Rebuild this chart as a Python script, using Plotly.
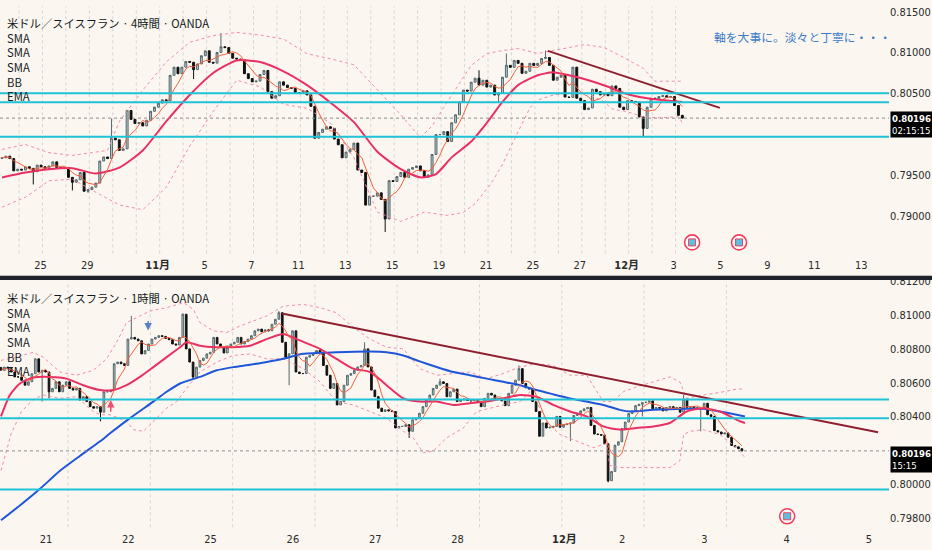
import numpy as np
import pandas as pd
import plotly.graph_objects as go

# prices are kept as 1e-5 steps above / below 0.80000
BASE = 0.8

# ---------------- 4H pane ----------------
top_first_open = -300
top_close = [
    -290, -270, -300, -450, -430, -440, -400, -420, -460, -380,
    -400, -420, -390, -340, -410, -420, -410, -530, -590, -560,
    -470, -700, -680, -650, -600, -330, -280, -300, -50, -70,
    -200, -180, 290, 180, 130, 140, 100, 170, 280, 330,
    380, 420, 410, 720, 820, 740, 820, 890, 880, 790,
    860, 960, 1020, 880, 870, 1000, 1070, 1060, 990, 930,
    920, 910, 740, 680, 640, 650, 730, 780, 520, 440,
    470, 640, 600, 570, 560, 510, 500, 530, 480, 340,
    -50, 20, 60, 90, 70, -60, -130, -290, -220, -190,
    -110, -440, -470, -870, -760, -760, -720, -800, -1040, -570,
    -580, -520, -470, -530, -430, -410, -390, -450, -530, -500,
    -250, -6, -6, 30, -91, 139, 236, 394, 539, 527,
    636, 685, 600, 660, 576, 600, 479, 503, 697, 842,
    818, 903, 867, 745, 770, 867, 842, 867, 927, 939,
    842, 660, 697, 721, 454, 450, 820, 440, 410, 300,
    320, 550, 520, 480, 500, 470, 590, 560, 330, 300,
    410, 400, 390, 210, 70, 330, 440, 430, 460, 470,
    450, 460, 350, 230, 196]
top_spikes = [(8, -617), (18, -690), (22, -720), (28, 190), (49, 674), (56, 1238),
              (98, -1200), (122, 782), (127, 382), (129, 988), (139, 1024), (164, -30)]

top_mid_bar = [0, 6, 12, 18, 24, 30, 36, 42, 48, 54, 60, 66, 72, 78, 84, 90, 96, 102,
               107, 111, 115, 120, 124, 128, 132, 137, 141, 145, 150, 155, 159, 163, 168, 174]
top_mid = [-531, -471, -430, -418, -483, -410, -200, 155, 479, 749, 903, 883, 769, 600, 386, 147, -216, -430,
           -530, -490, -285, -91, 139, 394, 600, 721, 757, 720, 660, 580, 503, 454, 420, 394]
top_up_bar = [0, 6, 12, 18, 24, 27, 30, 36, 42, 48, 54, 60, 66, 72, 78, 84, 90, 96, 102, 107,
              110, 113, 115, 120, 124, 128, 132, 137, 141, 144, 149, 154, 159, 164, 166, 167, 174]
top_up = [-188, -127, -228, -261, -220, -200, 155, 539, 883, 1125, 1206, 1246, 1214, 1165, 984, 923, 850, 539, 236, -44,
          100, 330, 479, 842, 988, 1024, 1048, 988, 1024, 1048, 1097, 1061, 939, 806, 697, 648, 648]
top_lo_bar = [0, 6, 12, 18, 24, 30, 36, 42, 48, 54, 60, 66, 72, 78, 84, 90, 96, 102, 108, 114,
              118, 121, 125, 128, 132, 135, 137, 141, 145, 149, 154, 156, 160, 164, 168, 173, 174]
top_lo = [-895, -774, -572, -552, -713, -867, -927, -653, -148, 277, 660, 580, 365, 317, 135, -289, -956, -1069, -956, -996,
          -960, -850, -612, -370, 30, 321, 418, 479, 503, 515, 394, 309, 273, 212, 200, 212, 139]
top_trend_bar = [139.6, 183.6]
top_trend = [1020, 321]
top_event_bar = [176.5, 188.5]
top_event = [-1327, -1327]
top_tick_text = ["25", "29", "<b>11月</b>", "5", "7", "11", "13", "15", "19", "21", "25", "27",
                 "<b>12月</b>", "3", "5", "9", "11", "13"]
top_tick_day = [1, 3, 6, 8, 10, 12, 14, 16, 18, 20, 22, 24, 26, 28, 30, 32, 34, 36]
top_price_ticks = [0.815, 0.810, 0.805, 0.795, 0.790]

# ---------------- 1H pane ----------------
bot_first_open = 690
bot_close = [
    673, 692, 683, 663, 634, 634, 614, 585, 605, 653,
    741, 663, 673, 663, 546, 566, 605, 546, 585, 605,
    566, 556, 566, 497, 517, 488, 458, 449, 458, 425,
    546, 546, 556, 712, 722, 712, 702, 858, 868, 858,
    848, 770, 790, 829, 858, 868, 878, 874, 862, 854,
    829, 823, 868, 1005, 800, 722, 634, 692, 731, 745,
    770, 780, 868, 829, 810, 776, 810, 829, 839, 868,
    829, 843, 858, 878, 907, 917, 901, 913, 907, 946,
    975, 1014, 839, 751, 771, 907, 663, 654, 654, 751,
    761, 771, 790, 780, 702, 644, 566, 595, 468, 488,
    585, 644, 654, 673, 693, 702, 800, 693, 556, 517,
    449, 429, 439, 433, 429, 332, 341, 341, 351, 312,
    380, 390, 419, 458, 497, 527, 566, 585, 605, 595,
    517, 546, 562, 488, 497, 503, 495, 492, 495, 488,
    458, 507, 537, 527, 503, 507, 492, 464, 537, 585,
    615, 683, 595, 570, 562, 488, 429, 283, 361, 332,
    336, 341, 400, 336, 351, 355, 361, 406, 419, 433,
    445, 453, 347, 296, 293, 289, 238, 19, 74, 230,
    250, 328, 367, 417, 433, 464, 472, 482, 484, 492,
    445, 453, 449, 433, 453, 458, 449, 453, 425, 503,
    453, 458, 449, 449, 453, 478, 410, 400, 316, 308,
    296, 302, 277, 228, 220, 209, 196]
bot_spikes = [(12, 488), (14, 507), (29, 371), (38, 995), (53, 1010), (56, 620), (81, 1024),
              (84, 585), (106, 839), (119, 273), (128, 624), (151, 702), (166, 254),
              (177, 10), (187, 400), (199, 527), (204, 312)]

bot_mid_bar = [0, 2.6, 5.5, 9.4, 14.3, 19.1, 24, 28.9, 32.8, 36.6, 40.5, 44.4, 48.3, 52.2, 54.1, 58,
               62.9, 67.7, 72.6, 77.5, 82.3, 86.2, 93, 97.8, 102.7, 107.6, 112.4, 117.3, 122.1, 127,
               131.9, 136.7, 141.6, 146.4, 151.3, 156.1, 161, 165.9, 170.7, 175.6, 180.4, 185.3,
               190.2, 195, 199.9, 204.7, 209.6, 214.5, 216.9]
bot_mid = [400, 527, 595, 630, 634, 624, 585, 556, 556, 585, 634, 692, 751, 810, 839, 819,
           810, 810, 819, 858, 888, 858, 800, 741, 683, 663, 585, 507, 488, 488,
           468, 478, 488, 507, 527, 517, 468, 429, 400, 341, 322, 332,
           341, 361, 429, 449, 429, 380, 361]
bot_blue_bar = [0, 5.5, 11.4, 17.2, 23, 28.9, 31.8, 37.6, 44.4, 48.3, 52.2, 58, 62.9, 67.7, 72.6,
                77.5, 82.3, 88.1, 97.8, 107.6, 112.4, 117.3, 122.1, 127, 131.9, 136.7, 141.6, 146.4,
                151.3, 156.1, 161, 165.9, 170.7, 175.6, 180.4, 183.5, 190.2, 199.9, 204.7, 209.6,
                214.5, 216.9]
bot_blue = [-215, -127, -28, 78, 166, 253, 300, 390, 488, 546, 595, 634, 673, 692, 706,
            722, 741, 771, 780, 784, 780, 761, 726, 693, 663, 644, 624, 605,
            585, 556, 531, 507, 488, 468, 439, 429, 439, 445, 445, 429,
            410, 400]
bot_up_bar = [0, 4.5, 9.4, 12.3, 17.2, 22, 26.9, 30.8, 33.7, 36.6, 40.5, 43.4, 48.3, 53.2, 56.1, 58,
              61.9, 65.8, 69.7, 73.6, 77.5, 82.3, 88.1, 93, 97.8, 102.7, 107.6, 112.4, 117.3, 122.1,
              127, 131.9, 136.7, 141.6, 146.4, 151.3, 156.1, 161, 165.9, 170.7, 175.6, 178.5, 181.4,
              185.3, 190.2, 195, 197.9, 199.9, 204.7, 209.6, 214.5, 216.9]
bot_up = [732, 751, 780, 751, 663, 644, 673, 741, 839, 956, 995, 1024, 1044, 1073, 1034, 956,
          907, 897, 936, 966, 995, 1053, 1063, 1044, 1014, 927, 858, 810, 800, 683,
          644, 654, 663, 624, 654, 693, 712, 702, 644, 644, 488, 488, 546,
          575, 605, 634, 605, 507, 527, 542, 562, 562]
bot_lo_bar = [0, 3, 6, 9.4, 12.3, 17.2, 22, 26.9, 28.9, 31.8, 36.6, 38.6, 41.5, 43.4, 48.3, 51.2,
              54.1, 58, 62.9, 67.7, 72.6, 77.5, 82.3, 88.1, 93, 97.8, 102.7, 107.6, 112.4, 117.3,
              120.2, 123.1, 126, 129.9, 134.8, 138.7, 142.5, 146.4, 151.3, 154.2, 156.1, 159, 163,
              167.8, 172.7, 175.6, 176.5, 177.5, 180.4, 185.3, 190.2, 195, 197.9, 199, 200.9,
              204.7, 209.6, 214.5, 216.9]
bot_lo = [80, 300, 430, 500, 527, 507, 517, 429, 410, 410, 371, 322, 312, 351, 449, 488,
          566, 663, 722, 761, 770, 741, 741, 683, 605, 488, 468, 429, 390, 312,
          273, 185, 195, 273, 332, 429, 449, 468, 488, 546, 488, 371, 293,
          254, 215, 234, 240, 110, 97, 97, 97, 97, 137, 293, 312,
          322, 293, 215, 156]
bot_trend_bar = [81.9, 255.7]
bot_trend = [1009, 306]
bot_event_bar = [229.2]
bot_event = [-191]
bot_arrow_down = (42.9, 909, 974)   # bar, head, tail
bot_arrow_up = (32.0, 498, 419)
bot_tick_text = ["21", "22", "25", "26", "27", "28", "<b>12月</b>", "2", "3", "4", "5"]
bot_tick_slot = [0, 1, 2, 3, 4, 5, 6.3, 7, 8, 9, 10]
bot_price_ticks = [0.812, 0.810, 0.808, 0.806, 0.804, 0.800, 0.798]

levels = [0.8050, 0.8039, 0.79967]
last_price = 0.80196
top_timer = "02:15:15"
bot_timer = "15:15"
top_title = "米ドル／スイスフラン · 4時間 · OANDA"
bot_title = "米ドル／スイスフラン · 1時間 · OANDA"
study_names = ["SMA", "SMA", "SMA", "BB", "EMA"]
note_text = "軸を大事に。淡々と丁寧に・・・"

# ---------------- layout constants ----------------
W, H = 932, 550
PLOT_RIGHT = 889
BG = "#fbf7f0"
TICK_FONT = dict(family="Liberation Sans Narrow, Arial Narrow, DejaVu Sans Condensed, Noto Sans CJK JP, sans-serif",
                 size=11, color="#2a2a2a")
JP_FONT = "Noto Sans CJK JP, Noto Sans, sans-serif"


def top_bar(px):
    return (px - 2) / 3.91


def bot_bar(px):
    return (px - 1) / 3.43


def price(v):
    return np.asarray(v, dtype=float) / 1e5 + BASE


def ohlc(close, first_open, spikes):
    c = price(close)
    o = np.r_[price(first_open), c[:-1]]
    hi = np.maximum(o, c)
    lo = np.minimum(o, c)
    for k, v in spikes:
        v = float(price(v))
        hi[k] = max(hi[k], v)
        lo[k] = min(lo[k], v)
    return o, hi, lo, c


fig = go.Figure()


def add_pane(xa, ya, close, first_open, spikes, mids, ups, los, trend, events, blue=None):
    o, hi, lo, c = ohlc(close, first_open, spikes)
    x = np.arange(len(c))
    fig.add_trace(go.Scatter(x=ups[0], y=price(ups[1]), mode="lines", xaxis=xa, yaxis=ya,
                             line=dict(color="#f28aa8", width=1, dash="dot"), hoverinfo="skip"))
    fig.add_trace(go.Scatter(x=los[0], y=price(los[1]), mode="lines", xaxis=xa, yaxis=ya,
                             line=dict(color="#f28aa8", width=1, dash="dot"), hoverinfo="skip"))
    if blue is not None:
        fig.add_trace(go.Scatter(x=blue[0], y=price(blue[1]), mode="lines", xaxis=xa, yaxis=ya,
                                 line=dict(color="#1f56d8", width=2, shape="spline", smoothing=0.6),
                                 hoverinfo="skip"))
    fig.add_trace(go.Scatter(x=mids[0], y=price(mids[1]), mode="lines", xaxis=xa, yaxis=ya,
                             line=dict(color="#ea2f62", width=2, shape="spline", smoothing=0.6),
                             hoverinfo="skip"))
    fig.add_trace(go.Candlestick(x=x, open=o, high=hi, low=lo, close=c, xaxis=xa, yaxis=ya,
                                 increasing=dict(line=dict(color="#56686b", width=1), fillcolor="#b3cdd0"),
                                 decreasing=dict(line=dict(color="#111111", width=1), fillcolor="#111111"),
                                 whiskerwidth=0, hoverinfo="skip"))
    fast = pd.Series(c).rolling(5, min_periods=1).mean()
    fig.add_trace(go.Scatter(x=x, y=fast, mode="lines", xaxis=xa, yaxis=ya,
                             line=dict(color="#f2603f", width=1), hoverinfo="skip"))
    fig.add_trace(go.Scatter(x=trend[0], y=price(trend[1]), mode="lines", xaxis=xa, yaxis=ya,
                             line=dict(color="#8e1f2e", width=2), hoverinfo="skip"))
    fig.add_trace(go.Scatter(x=events[0], y=price(events[1]), mode="markers", xaxis=xa, yaxis=ya,
                             marker=dict(symbol="circle", size=15, color="white",
                                         line=dict(color="#f23f5c", width=1.6)), hoverinfo="skip"))
    fig.add_trace(go.Scatter(x=events[0], y=price(events[1]), mode="markers", xaxis=xa, yaxis=ya,
                             marker=dict(symbol="square", size=7, color="#5bbfe0",
                                         line=dict(color="#f23f5c", width=1)), hoverinfo="skip"))


add_pane("x", "y", top_close, top_first_open, top_spikes,
         (top_mid_bar, top_mid), (top_up_bar, top_up), (top_lo_bar, top_lo),
         (top_trend_bar, top_trend), (top_event_bar, top_event))
add_pane("x2", "y2", bot_close, bot_first_open, bot_spikes,
         (bot_mid_bar, bot_mid), (bot_up_bar, bot_up), (bot_lo_bar, bot_lo),
         (bot_trend_bar, bot_trend), (bot_event_bar, bot_event), blue=(bot_blue_bar, bot_blue))

shapes = []
# vertical day grid
for n in range(29):
    gx = top_bar(19 + 23.45 * n)
    shapes.append(dict(type="line", xref="x", yref="y domain", x0=gx, x1=gx, y0=0, y1=1, layer="below",
                       line=dict(color="#d4d4d4", width=1, dash="dot")))
for n in range(9):
    gx = bot_bar(68 + 82.3 * n)
    shapes.append(dict(type="line", xref="x2", yref="y2 domain", x0=gx, x1=gx, y0=0, y1=1, layer="below",
                       line=dict(color="#d4d4d4", width=1, dash="dot")))
# horizontal levels and last price
for ya in ("y", "y2"):
    for lv in levels:
        shapes.append(dict(type="line", xref=ya.replace("y", "x") + " domain", yref=ya, x0=0, x1=1, y0=lv, y1=lv,
                           line=dict(color="#1fc2d6", width=2)))
    shapes.append(dict(type="line", xref=ya.replace("y", "x") + " domain", yref=ya, x0=0, x1=1,
                       y0=last_price, y1=last_price, line=dict(color="#8c8c8c", width=1, dash="dot")))
# pane separator
shapes.append(dict(type="rect", xref="paper", yref="paper", x0=0, x1=1, y0=1 - 273 / H, y1=1 - 272 / H,
                   fillcolor="#bdbdbd", line=dict(width=0), layer="above"))
shapes.append(dict(type="rect", xref="paper", yref="paper", x0=0, x1=1, y0=1 - 277 / H, y1=1 - 273 / H,
                   fillcolor="#1f222a", line=dict(width=0), layer="above"))

annotations = []
# pane legends as one block each so the rows keep the chart's tight spacing
for title, ytop in ((top_title, 7), (bot_title, 285)):
    annotations.append(dict(text="<br>".join([title] + study_names), x=5 / W, y=1 - ytop / H,
                            xref="paper", yref="paper", xanchor="left", yanchor="top", align="left",
                            showarrow=False, font=dict(family=JP_FONT, size=11.3, color="#131722")))
annotations.append(dict(text=note_text, x=712 / W, y=1 - 31 / H, xref="paper", yref="paper",
                        xanchor="left", yanchor="middle", showarrow=False,
                        font=dict(family=JP_FONT, size=11.8, color="#3b7bc8")))
# last-price tags on the price scale
for ya, timer, yshift in (("y", top_timer, 7), ("y2", bot_timer, 5)):
    annotations.append(dict(text="<b>%.5f</b><br>%s" % (last_price, timer), x=890 / W, xref="paper",
                            y=last_price, yref=ya, xanchor="left", yanchor="top", yshift=yshift,
                            showarrow=False, align="left", bgcolor="#000000", borderpad=1,
                            font=dict(family=TICK_FONT["family"], size=9.5, color="white")))
for (b, head, tail), col in ((bot_arrow_down, "#5a7fc4"), (bot_arrow_up, "#f0506e")):
    annotations.append(dict(x=b, y=float(price(head)), ax=b, ay=float(price(tail)), xref="x2", yref="y2",
                            axref="x2", ayref="y2", showarrow=True, arrowhead=2, arrowsize=1,
                            arrowwidth=1.5, arrowcolor=col, text=""))

top_ticks = [top_bar(19 + 23.45 * d - 2) for d in top_tick_day]
bot_ticks = [bot_bar(46 + 82.3 * s) for s in bot_tick_slot]

axis_common = dict(showgrid=False, zeroline=False, showline=False, ticks="", tickfont=TICK_FONT,
                   fixedrange=True)
fig.update_layout(
    width=W, height=H, margin=dict(l=0, r=0, t=0, b=0),
    paper_bgcolor=BG, plot_bgcolor=BG, showlegend=False,
    xaxis=dict(domain=[0, PLOT_RIGHT / W], anchor="y", range=[top_bar(0), top_bar(PLOT_RIGHT)],
               tickmode="array", tickvals=top_ticks, ticktext=top_tick_text, ticklabelstandoff=4,
               rangeslider=dict(visible=False), **axis_common),
    yaxis=dict(domain=[1 - 250 / H, 1], anchor="x", side="right", range=[0.78540, 0.815695],
               tickmode="array", tickvals=top_price_ticks, ticktext=["%.5f" % v for v in top_price_ticks],
               **axis_common),
    xaxis2=dict(domain=[0, PLOT_RIGHT / W], anchor="y2", range=[bot_bar(0), bot_bar(PLOT_RIGHT)],
                tickmode="array", tickvals=bot_ticks, ticktext=bot_tick_text, ticklabelstandoff=4,
                rangeslider=dict(visible=False), **axis_common),
    yaxis2=dict(domain=[1 - 527 / H, 1 - 278 / H], anchor="x2", side="right", range=[0.79744, 0.81202],
                tickmode="array", tickvals=bot_price_ticks, ticktext=["%.5f" % v for v in bot_price_ticks],
                **axis_common),
    shapes=shapes, annotations=annotations,
)

# the page's default body margin would push the 932x550 figure off the window
fig.write_html("out.html", config={"displayModeBar": False},
               post_script="document.body.style.margin='0';")
